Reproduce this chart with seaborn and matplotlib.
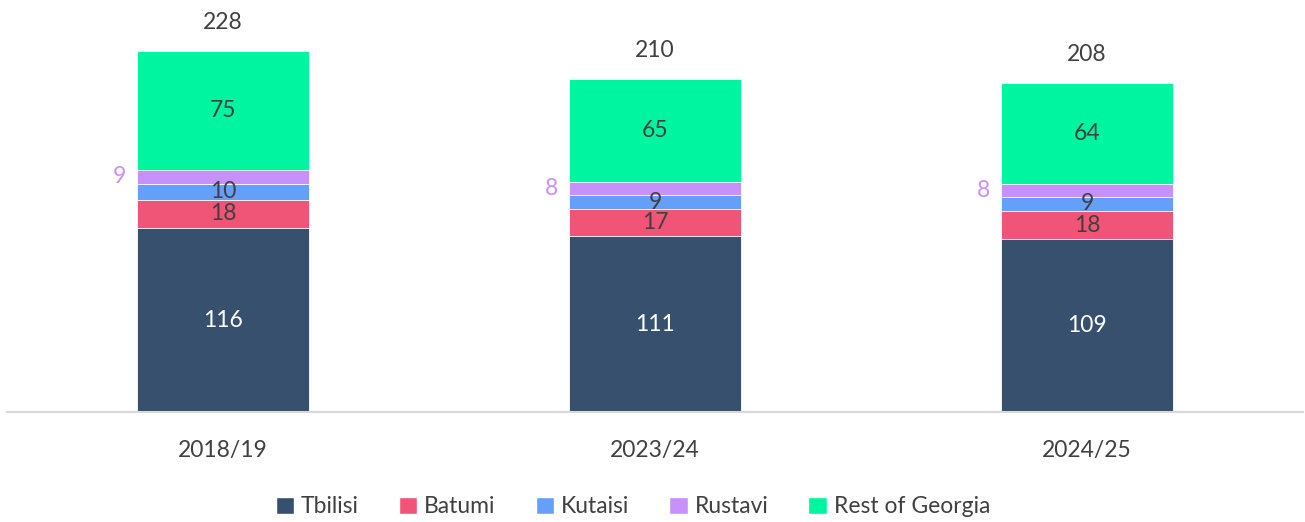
import pandas as pd
import matplotlib.pyplot as plt
import seaborn as sns
from matplotlib.patches import Patch

years = ["2018/19", "2023/24", "2024/25"]
segmentos = ["Tbilisi", "Batumi", "Kutaisi", "Rustavi", "Rest of Georgia"]
tbilisi = [116, 111, 109]
batumi = [18, 17, 18]
kutaisi = [10, 9, 9]
rustavi = [9, 8, 8]
resto = [75, 65, 64]
totales = [228, 210, 208]

colores = ["#37506E", "#F05578", "#64A0FA", "#C890FA", "#00F5A0"]
gris = "#404040"
fs = 16.5

sns.set_theme(style="white")
plt.rcParams["font.family"] = ["Lato", "DejaVu Sans"]

df = pd.DataFrame({"year": years, "Tbilisi": tbilisi, "Batumi": batumi,
                   "Kutaisi": kutaisi, "Rustavi": rustavi, "Rest of Georgia": resto})
acum = df[segmentos].cumsum(axis=1)

fig = plt.figure(figsize=(13.05, 5.22), dpi=100)
ax = fig.add_axes([7 / 1305, 110 / 522, 1296 / 1305, 396 / 522])

# barras acumuladas, de la mas alta a la mas baja
for seg, col in reversed(list(zip(segmentos, colores))):
    sns.barplot(x=df["year"], y=acum[seg], color=col, width=0.4, ax=ax,
                edgecolor="white", linewidth=0.6, saturation=1)

ax.set_ylim(0, 250)
ax.set_xlim(-0.5, 2.5)

for i in range(len(years)):
    base = 0
    for j, seg in enumerate(segmentos):
        v = df[seg][i]
        mid = base + v / 2
        if seg == "Tbilisi":
            ax.text(i, mid, str(v), ha="center", va="center", color="white", fontsize=fs)
        elif seg == "Rustavi":
            ax.text(i - 0.225, mid, str(v), ha="right", va="center", color="#C890FA", fontsize=fs)
        else:
            ax.text(i, mid, str(v), ha="center", va="center", color=gris, fontsize=fs)
        base += v
    ax.text(i, totales[i] + 18, str(totales[i]), ha="center", va="center", color=gris, fontsize=fs)

ax.set_xlabel("")
ax.set_ylabel("")
ax.set_yticks([])
ax.tick_params(axis="x", colors=gris, labelsize=fs, pad=20, length=0)
sns.despine(ax=ax, left=True)
ax.spines["bottom"].set_color("#d9d9d9")
ax.spines["bottom"].set_linewidth(1.5)

handles = [Patch(facecolor=c, label=s) for s, c in zip(segmentos, colores)]
fig.legend(handles=handles, loc="center", bbox_to_anchor=(0.485, 0.029), ncol=5,
           frameon=False, fontsize=fs, handlelength=0.8, handleheight=0.8,
           handletextpad=0.3, columnspacing=1.75, labelcolor=gris)

fig.savefig("out.png", dpi=100)
